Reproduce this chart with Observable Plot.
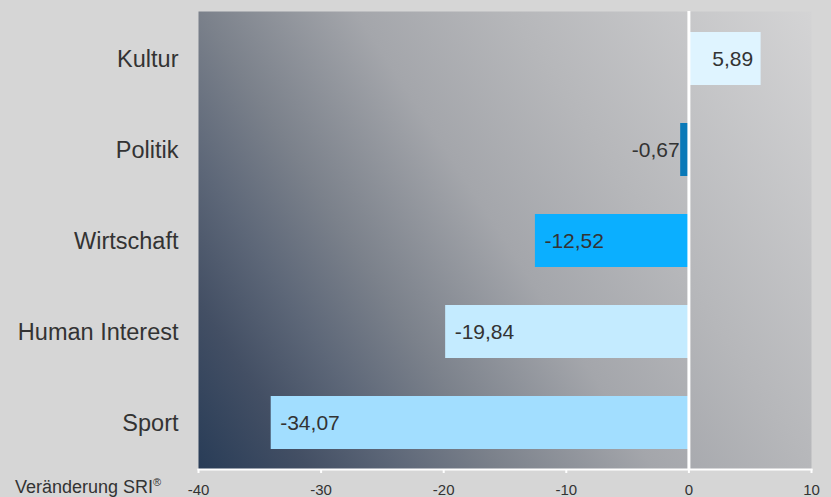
<!DOCTYPE html>
<html>
<head>
<meta charset="utf-8">
<script src="https://cdn.jsdelivr.net/npm/d3@7"></script>
<script src="https://cdn.jsdelivr.net/npm/@observablehq/plot@0.6"></script>
<style>
  html, body { margin: 0; padding: 0; background: #d6d6d6; }
  #chart svg { display: block; background: #d6d6d6; }
</style>
</head>
<body>
<div id="chart"></div>
<script>
const categories = ["Kultur", "Politik", "Wirtschaft", "Human Interest", "Sport"];
const values = [5.89, -0.67, -12.52, -19.84, -34.07];
const tickValues = [-40, -30, -20, -10, 0, 10];
const axisTitle = "Veränderung SRI";
const axisTitleSup = "®";

const barColors = ["#dff4ff", "#0a79b8", "#0bafff", "#c4ebff", "#a2deff"];
const textColor = "#333333";

const data = categories.map((c, i) => ({category: c, value: values[i]}));
const fmt = v => v.toFixed(2).replace(".", ",");

const W = 831, H = 497;
const mL = 198, mR = 20, mT = 11, mB = 28;

const plot = Plot.plot({
  width: W,
  height: H,
  marginLeft: mL,
  marginRight: mR,
  marginTop: mT,
  marginBottom: mB,
  style: {background: "#d6d6d6", fontFamily: "'Liberation Sans', Arial, sans-serif", color: textColor},
  x: {domain: [-40, 10], ticks: tickValues, tickFormat: d => String(d)},
  y: {domain: categories, paddingInner: 0.42, paddingOuter: 0.21},
  color: {domain: categories, range: barColors},
  marks: [
    Plot.frame({fill: "url(#bgGrad)", stroke: null}),
    Plot.barX(data, {x: "value", y: "category", fill: "category"}),
    Plot.ruleX([0], {stroke: "white", strokeWidth: 3}),
    Plot.frame({anchor: "bottom", stroke: "white", strokeWidth: 2}),
    Plot.axisX({ticks: tickValues, tickFormat: d => String(d), tickSize: 4, tickPadding: 11, stroke: "white", strokeWidth: 2, fill: textColor, fontSize: 15, label: null}),
    Plot.axisY({tickSize: 0, tickPadding: 20, fontSize: 23.5, fill: textColor, label: null}),
    Plot.text(data.filter(d => d.value < -5), {x: "value", y: "category", text: d => fmt(d.value), textAnchor: "start", dx: 9, fontSize: 21, fill: textColor}),
    Plot.text(data.filter(d => d.value < 0 && d.value >= -5), {x: "value", y: "category", text: d => fmt(d.value), textAnchor: "end", dx: -1, fontSize: 21, fill: textColor}),
    Plot.text(data.filter(d => d.value > 0), {x: "value", y: "category", text: d => fmt(d.value), textAnchor: "end", dx: -8, fontSize: 21, fill: textColor})
  ]
});

// gradient definition for the plot background (dark bottom-left → light top-right)
const svg = d3.select(plot);
const defs = svg.insert("defs", ":first-child");
const plotW = W - mL - mR, plotH = H - mT - mB;
const dirX = 1.53, dirY = 1;
const dirLen = Math.hypot(dirX, dirY);
const proj = (plotW * dirX + plotH * dirY) / dirLen;
const grad = defs.append("linearGradient")
  .attr("id", "bgGrad")
  .attr("gradientUnits", "userSpaceOnUse")
  .attr("x1", mL).attr("y1", mT + plotH)
  .attr("x2", mL + proj * dirX / dirLen).attr("y2", mT + plotH - proj * dirY / dirLen);
[
  [0.00, "#283c57"],
  [0.12, "#434f64"],
  [0.22, "#5d6778"],
  [0.33, "#7b818b"],
  [0.50, "#a4a6ab"],
  [0.67, "#b6b7ba"],
  [1.00, "#d4d4d5"]
].forEach(([o, c]) => grad.append("stop").attr("offset", o).attr("stop-color", c));

// axis title with superscript
const t = svg.append("text")
  .attr("x", 15).attr("y", 493)
  .attr("text-anchor", "start")
  .attr("fill", textColor)
  .attr("font-size", 18)
  .attr("font-family", "'Liberation Sans', Arial, sans-serif")
  .text(axisTitle);
t.append("tspan").attr("font-size", 11).attr("dy", -7).text(axisTitleSup);

document.getElementById("chart").appendChild(plot);
</script>
</body>
</html>
